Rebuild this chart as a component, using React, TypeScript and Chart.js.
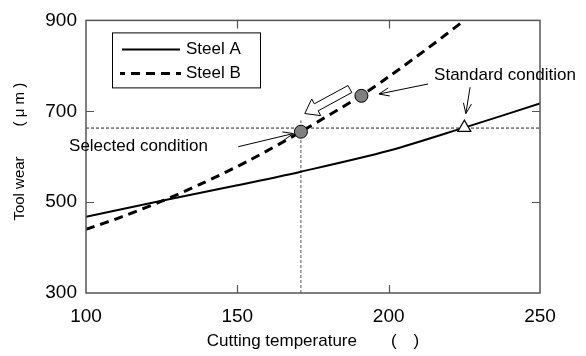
import React, { useEffect, useRef } from "react";
import { Chart, registerables } from "chart.js";

Chart.register(...registerables);

// ---- data ----
const steelATemps = [100, 125, 150, 171, 200, 225, 250];
const steelAWear = [468, 503, 537, 567, 613, 664, 717];

const steelBTemps = [100, 112, 125, 138, 154, 171, 191, 200, 213, 225];
const steelBWear = [440, 468, 502, 540, 592, 655, 735, 776, 839, 900];

const selectedPoint = { x: 171, y: 655 };
const steelBStandardPoint = { x: 191, y: 734 };
const standardPoint = { x: 225, y: 664 };

const refLineY = 663;
const refLineTop = 680;

const xTicks = [100, 150, 200, 250];
const yTicks = [300, 500, 700, 900];

const seriesLabels = ["Steel A", "Steel B"];

// annotation texts and arrows (data coordinates)
const annotationTexts = [
  { text: "Selected condition", x: 94.4, y: 613 },
  { text: "Standard condition", x: 215.0, y: 768 },
];
const calloutArrows = [
  { from: [150.3, 622], to: [168.5, 651] },
  { from: [213.0, 760], to: [196.8, 738] },
  { from: [226.9, 753], to: [225.5, 695] },
];
const blockArrow = { from: [187.2, 749], to: [172.3, 695] };

const FONT = "'Liberation Sans', Arial, 'Noto Sans CJK JP', sans-serif";

const overlayPlugin = {
  id: "overlay",
  afterDraw(chart: any) {
    const { ctx, chartArea: a, scales } = chart;
    const xs = scales.x;
    const ys = scales.y;
    const px = (v: number) => xs.getPixelForValue(v);
    const py = (v: number) => ys.getPixelForValue(v);
    ctx.save();

    // frame
    ctx.strokeStyle = "#555";
    ctx.lineWidth = 1.5;
    ctx.strokeRect(a.left, a.top, a.right - a.left, a.bottom - a.top);

    // inward ticks
    const tl = 8;
    ctx.beginPath();
    xTicks.slice(1, -1).forEach((t) => {
      const x = Math.round(px(t)) + 0.5;
      ctx.moveTo(x, a.bottom);
      ctx.lineTo(x, a.bottom - tl);
      ctx.moveTo(x, a.top);
      ctx.lineTo(x, a.top + tl);
    });
    yTicks.slice(1, -1).forEach((t) => {
      const y = Math.round(py(t)) + 0.5;
      ctx.moveTo(a.left, y);
      ctx.lineTo(a.left + tl, y);
      ctx.moveTo(a.right, y);
      ctx.lineTo(a.right - tl, y);
    });
    ctx.lineWidth = 1.2;
    ctx.stroke();

    // legend
    const lx = a.left + 26;
    const ly = a.top + 12;
    const lw = 148;
    const lh = 55;
    ctx.fillStyle = "#fff";
    ctx.fillRect(lx, ly, lw, lh);
    ctx.strokeStyle = "#000";
    ctx.lineWidth = 1;
    ctx.strokeRect(lx + 0.5, ly + 0.5, lw, lh);
    ctx.lineWidth = 2;
    ctx.beginPath();
    ctx.moveTo(lx + 10, ly + 17);
    ctx.lineTo(lx + 68, ly + 17);
    ctx.stroke();
    ctx.lineWidth = 3;
    ctx.setLineDash([9, 6]);
    ctx.lineDashOffset = 4;
    ctx.beginPath();
    ctx.moveTo(lx + 8, ly + 41);
    ctx.lineTo(lx + 69, ly + 41);
    ctx.stroke();
    ctx.setLineDash([]);
    ctx.lineDashOffset = 0;
    ctx.fillStyle = "#000";
    ctx.font = `17px ${FONT}`;
    ctx.textBaseline = "middle";
    ctx.textAlign = "left";
    ctx.fillText(seriesLabels[0], lx + 74, ly + 17);
    ctx.fillText(seriesLabels[1], lx + 74, ly + 41);

    // annotation texts
    ctx.textBaseline = "alphabetic";
    annotationTexts.forEach((t) => {
      ctx.fillText(t.text, px(t.x), py(t.y));
    });

    // callout arrows
    ctx.strokeStyle = "#000";
    ctx.lineWidth = 1;
    calloutArrows.forEach((ar) => {
      const x0 = px(ar.from[0]);
      const y0 = py(ar.from[1]);
      const x1 = px(ar.to[0]);
      const y1 = py(ar.to[1]);
      const ang = Math.atan2(y1 - y0, x1 - x0);
      const hl = 11;
      const ha = 0.38;
      ctx.beginPath();
      ctx.moveTo(x0, y0);
      ctx.lineTo(x1, y1);
      ctx.moveTo(x1 - hl * Math.cos(ang - ha), y1 - hl * Math.sin(ang - ha));
      ctx.lineTo(x1, y1);
      ctx.lineTo(x1 - hl * Math.cos(ang + ha), y1 - hl * Math.sin(ang + ha));
      ctx.stroke();
    });

    // block (hollow) arrow
    {
      const tx = px(blockArrow.from[0]);
      const ty = py(blockArrow.from[1]);
      const hx = px(blockArrow.to[0]);
      const hy = py(blockArrow.to[1]);
      const len = Math.hypot(hx - tx, hy - ty);
      const ux = (hx - tx) / len;
      const uy = (hy - ty) / len;
      const nx = -uy;
      const ny = ux;
      const bw = 4;
      const hw = 9.5;
      const hlen = 13;
      const bx = hx - ux * hlen;
      const by = hy - uy * hlen;
      ctx.beginPath();
      ctx.moveTo(tx + nx * bw, ty + ny * bw);
      ctx.lineTo(bx + nx * bw, by + ny * bw);
      ctx.lineTo(bx + nx * hw, by + ny * hw);
      ctx.lineTo(hx, hy);
      ctx.lineTo(bx - nx * hw, by - ny * hw);
      ctx.lineTo(bx - nx * bw, by - ny * bw);
      ctx.lineTo(tx - nx * bw, ty - ny * bw);
      ctx.closePath();
      ctx.fillStyle = "#fff";
      ctx.fill();
      ctx.lineWidth = 1;
      ctx.stroke();
    }

    // axis titles
    ctx.fillStyle = "#000";
    ctx.font = `17px ${FONT}`;
    ctx.textAlign = "center";
    ctx.textBaseline = "middle";
    ctx.fillText("Cutting temperature\u3000\u3000(\u3000)", (a.left + a.right) / 2, 341);
    ctx.save();
    ctx.translate(20, (a.top + a.bottom) / 2 - 5);
    ctx.rotate(-Math.PI / 2);
    ctx.font = `15px ${FONT}`;
    ctx.fillText("Tool wear\u3000\u3000( \u03bc m )", 0, 0);
    ctx.restore();

    ctx.restore();
  },
};

export default function App() {
  const ref = useRef<HTMLCanvasElement | null>(null);
  useEffect(() => {
    document.body.style.margin = "0";
    const canvas = ref.current;
    if (!canvas) return;
    const toPts = (xsArr: number[], ysArr: number[]) =>
      xsArr.map((x, i) => ({ x, y: ysArr[i] }));
    const chart = new Chart(canvas, {
      type: "line",
      data: {
        datasets: [
          {
            label: "Selected",
            type: "scatter",
            data: [selectedPoint, steelBStandardPoint],
            pointRadius: 6.5,
            pointBackgroundColor: "#808080",
            pointBorderColor: "#000",
            pointBorderWidth: 1,
            order: 0,
          } as any,
          {
            label: "Standard",
            type: "scatter",
            data: [standardPoint],
            pointStyle: "triangle",
            pointRadius: 7.5,
            pointBackgroundColor: "#fff",
            pointBorderColor: "#000",
            pointBorderWidth: 1.2,
            order: 0,
          } as any,
          {
            label: seriesLabels[0],
            data: toPts(steelATemps, steelAWear),
            borderColor: "#000",
            borderWidth: 2,
            pointRadius: 0,
            tension: 0.3,
            fill: false,
            order: 1,
          },
          {
            label: seriesLabels[1],
            data: toPts(steelBTemps, steelBWear),
            borderColor: "#000",
            borderWidth: 3,
            borderDash: [9, 6],
            pointRadius: 0,
            tension: 0.3,
            fill: false,
            order: 1,
          },
          {
            label: "ref-h",
            data: [
              { x: xTicks[0], y: refLineY },
              { x: xTicks[xTicks.length - 1], y: refLineY },
            ],
            borderColor: "#222",
            borderWidth: 1,
            borderDash: [3, 2],
            pointRadius: 0,
            order: 2,
          },
          {
            label: "ref-v",
            data: [
              { x: selectedPoint.x, y: yTicks[0] },
              { x: selectedPoint.x, y: refLineTop },
            ],
            borderColor: "#555",
            borderWidth: 1,
            borderDash: [3, 2],
            pointRadius: 0,
            order: 2,
          },
        ],
      },
      options: {
        animation: false,
        responsive: false,
        events: [],
        layout: { padding: { left: 0, top: 15, right: 46, bottom: 0 } },
        plugins: { legend: { display: false }, tooltip: { enabled: false } },
        scales: {
          x: {
            type: "linear",
            min: xTicks[0],
            max: xTicks[xTicks.length - 1],
            afterBuildTicks: (s: any) => {
              s.ticks = xTicks.map((v) => ({ value: v }));
            },
            grid: { display: false, drawTicks: false },
            border: { display: false },
            ticks: {
              color: "#000",
              font: { family: FONT, size: 19 },
              padding: 12,
              maxRotation: 0,
            },
            afterFit: (s: any) => {
              s.height = 63;
            },
          },
          y: {
            type: "linear",
            min: yTicks[0],
            max: yTicks[yTicks.length - 1],
            afterBuildTicks: (s: any) => {
              s.ticks = yTicks.map((v) => ({ value: v }));
            },
            grid: { display: false, drawTicks: false },
            border: { display: false },
            ticks: {
              color: "#000",
              font: { family: FONT, size: 19 },
              padding: 9,
            },
            afterFit: (s: any) => {
              s.width = 86;
            },
          },
        },
      },
      plugins: [overlayPlugin],
    });
    return () => chart.destroy();
  }, []);
  return (
    <div style={{ width: 586, height: 356 }}>
      <canvas ref={ref} width={586} height={356} style={{ width: 586, height: 356 }} />
    </div>
  );
}
